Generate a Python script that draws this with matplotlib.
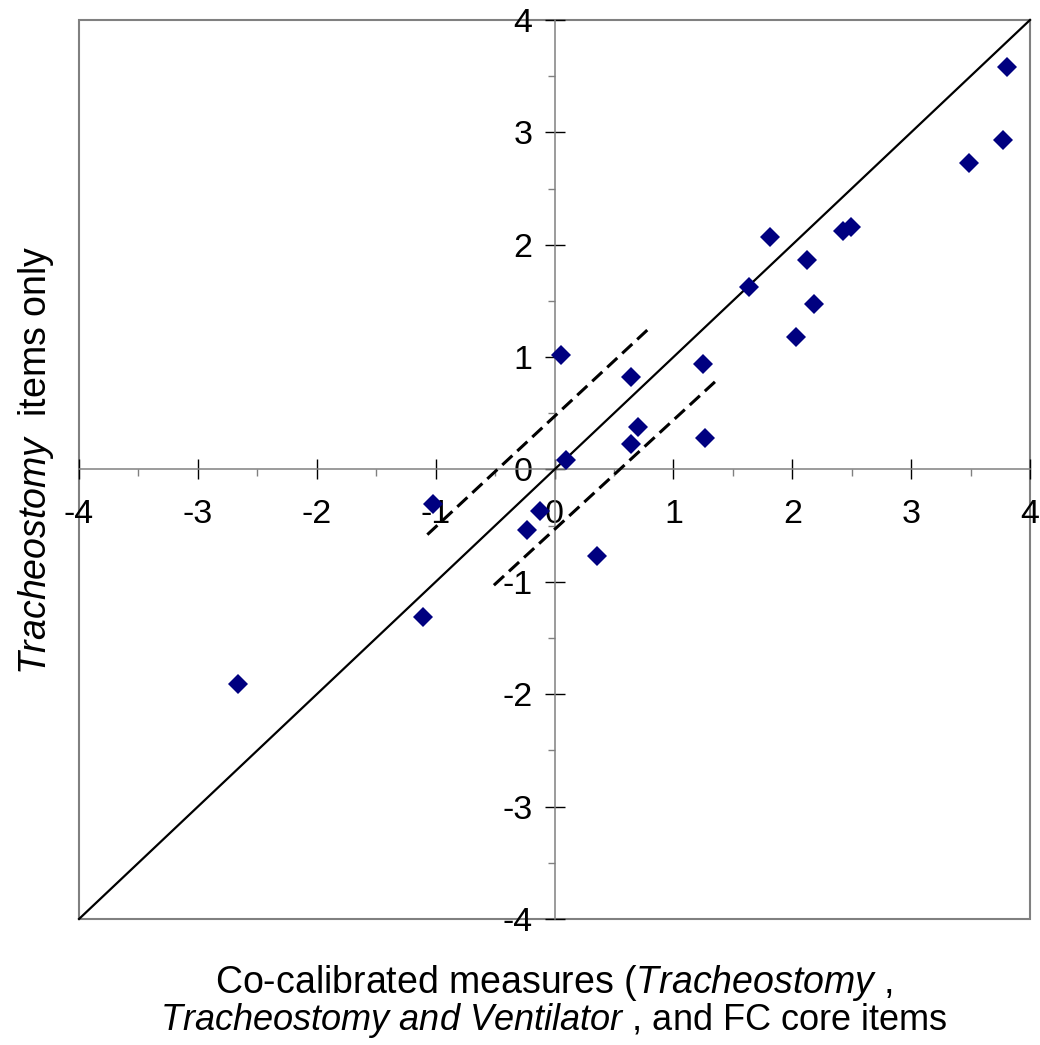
import matplotlib
matplotlib.use('Agg')
import matplotlib.pyplot as plt
from matplotlib.patches import Rectangle
from matplotlib.ticker import MultipleLocator

plt.rcParams['font.family'] = ['Liberation Sans', 'DejaVu Sans']
plt.rcParams['mathtext.fontset'] = 'custom'
plt.rcParams['mathtext.rm'] = 'Liberation Sans'
plt.rcParams['mathtext.it'] = 'Liberation Sans:italic'

# co-calibrated measure vs tracheostomy-only measure
co_cal = [-2.66, -1.11, -1.02, -0.12, -0.23, 0.10, 0.36, 0.70, 0.64, 0.055,
          0.64, 1.25, 1.27, 1.64, 1.81, 2.03, 2.12, 2.18, 2.43, 2.49,
          3.49, 3.77, 3.81]
trach_only = [-1.91, -1.31, -0.31, -0.37, -0.54, 0.085, -0.77, 0.38, 0.23, 1.02,
              0.82, 0.94, 0.28, 1.62, 2.07, 1.18, 1.86, 1.47, 2.12, 2.16,
              2.73, 2.93, 3.58]

identity_x = [-4, 4]
identity_y = [-4, 4]
upper_x = [-1.07, 0.80]
upper_y = [-0.58, 1.26]
lower_x = [-0.51, 1.36]
lower_y = [-1.03, 0.79]

ticks = [-4, -3, -2, -1, 0, 1, 2, 3, 4]
tick_labels = ['-4', '-3', '-2', '-1', '0', '1', '2', '3', '4']

fig = plt.figure(figsize=(10.4, 10.45), dpi=100)
ax = fig.add_axes([0.076, 0.1206, 0.9144, 0.8603])
ax.set_xlim(-4, 4)
ax.set_ylim(-4, 4)

gray = '#808080'
for s in ['left', 'bottom']:
    ax.spines[s].set_position('zero')
    ax.spines[s].set_color(gray)
    ax.spines[s].set_linewidth(1.1)
for s in ['top', 'right']:
    ax.spines[s].set_visible(False)
ax.add_patch(Rectangle((0, 0), 1, 1, transform=ax.transAxes, fill=False,
                       ec=gray, lw=1.5, clip_on=False))

ax.set_xticks(ticks)
ax.set_xticklabels(tick_labels)
ax.set_yticks(ticks)
ax.set_yticklabels(tick_labels)
ax.xaxis.set_minor_locator(MultipleLocator(0.5))
ax.yaxis.set_minor_locator(MultipleLocator(0.5))
ax.tick_params(which='major', direction='inout', length=14, width=1,
               color='black', labelsize=24.5)
ax.tick_params(axis='x', which='major', pad=14)
ax.tick_params(axis='y', which='major', pad=9)
ax.tick_params(which='minor', direction='out', length=5, width=1, color=gray)

ax.plot(identity_x, identity_y, color='black', lw=1.6, clip_on=False, zorder=3)
ax.plot(upper_x, upper_y, color='black', lw=2.2, ls=(0, (4.5, 2.2)), zorder=3)
ax.plot(lower_x, lower_y, color='black', lw=2.2, ls=(0, (4.5, 2.2)), zorder=3)
ax.plot(co_cal, trach_only, 'D', color='#000080', ms=10.5, mew=0, zorder=4,
        clip_on=False)

fig.text(0.035, 0.5598, r'$\it{Tracheostomy}$  items only', rotation=90,
         ha='center', va='center', fontsize=27)
fig.text(0.533, (1045 - 993) / 1045, r'Co-calibrated measures ($\it{Tracheostomy}$ ,',
         ha='center', va='baseline', fontsize=27)
fig.text(0.533, (1045 - 1030) / 1045,
         r'$\it{Tracheostomy\ and\ Ventilator}$ , and FC core items',
         ha='center', va='baseline', fontsize=26)

fig.savefig('out.png', dpi=100)
